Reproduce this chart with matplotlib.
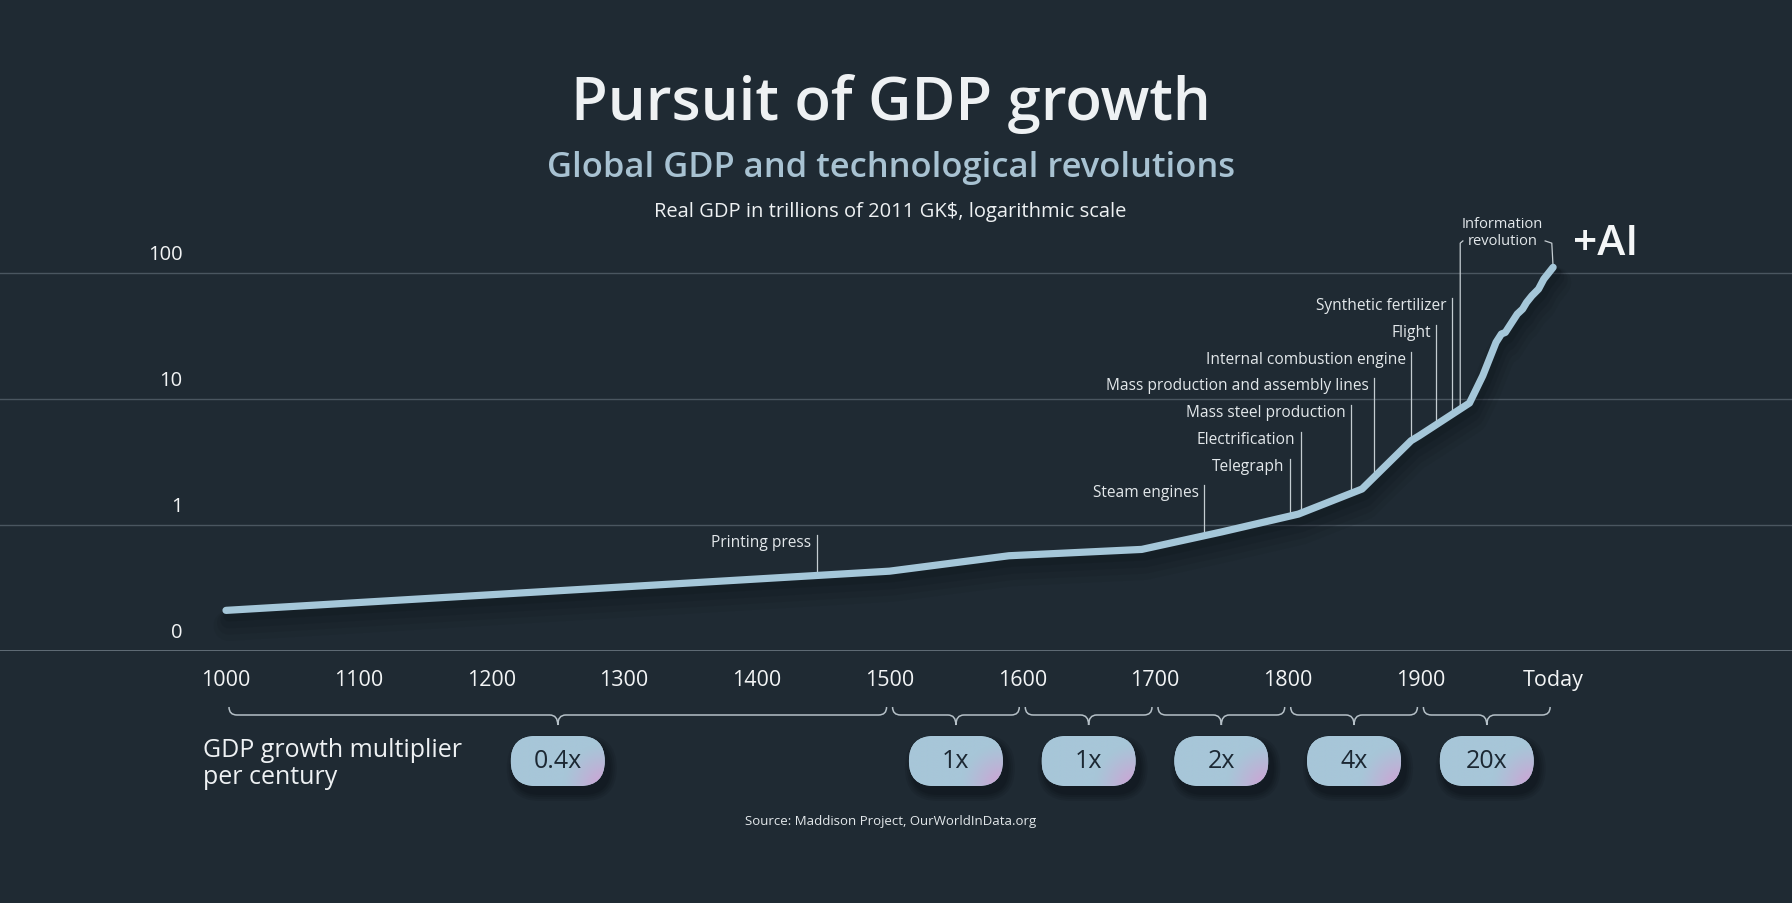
import numpy as np
import matplotlib
matplotlib.use('Agg')
import matplotlib.pyplot as plt
import matplotlib.patheffects as pe
from matplotlib.patches import FancyBboxPatch, PathPatch
from matplotlib.path import Path

plt.rcParams['font.family'] = ['Open Sans', 'DejaVu Sans']

# world GDP, trillions of 2011 GK$
years = [1000, 1500, 1590, 1690, 1750, 1808, 1856, 1893, 1899, 1937, 1947,
         1957, 1961, 1964, 1973, 1977, 1980, 1984, 1989, 1993, 2000]
gdp = [0.21, 0.43, 0.57, 0.64, 0.88, 1.22, 1.93, 4.67, 5.1, 9.3, 15.3,
       28.2, 32.8, 33.8, 47.3, 51.8, 58.5, 66, 74.6, 89.6, 111]

x_ticks = [1000, 1100, 1200, 1300, 1400, 1500, 1600, 1700, 1800, 1900, 2000]
x_labels = ['1000', '1100', '1200', '1300', '1400', '1500', '1600', '1700',
            '1800', '1900', 'Today']
y_ticks = [0.1, 1, 10, 100]
y_labels = ['0', '1', '10', '100']

events = ['Steam engines', 'Telegraph', 'Electrification', 'Mass steel production',
          'Mass production and assembly lines', 'Internal combustion engine',
          'Flight', 'Synthetic fertilizer']
event_years = [1737, 1802, 1810, 1848, 1865, 1893, 1912, 1924]
press_year = 1445
info_year = 1930

spans = [(1000, 1500), (1500, 1600), (1600, 1700), (1700, 1800), (1800, 1900), (1900, 2000)]
multipliers = ['0.4x', '1x', '1x', '2x', '4x', '20x']

BG = '#1f2a33'
LINE = '#a5c7d9'
W, H = 1792, 904

fig = plt.figure(figsize=(W / 100, H / 100), dpi=100, facecolor=BG)
ax = fig.add_axes([0, 0.2788, 1, 0.4933])
ax.set_facecolor(BG)
ax.set_yscale('log')
ax.set_xlim(829.7, 2180)
ax.set_ylim(0.1, 10 ** 2.54)
for s in ax.spines.values():
    s.set_visible(False)
ax.tick_params(axis='y', which='both', left=False, labelleft=False)
ax.tick_params(axis='x', which='both', length=0, pad=13, labelsize=15.5, labelcolor='#f2f4f5')
ax.set_xticks(x_ticks, x_labels)
for t in ax.get_xticklabels():
    t.set_fontweight(500)
ax.xaxis.set_minor_locator(matplotlib.ticker.NullLocator())

for v, lab in zip(y_ticks, y_labels):
    ax.axhline(v, color='#65727c' if v == 0.1 else '#4a5660', lw=1.3 if v == 0.1 else 1.0, zorder=1)
    ax.annotate(lab, xy=(0.102, v), xycoords=('axes fraction', 'data'), xytext=(0, 14),
                textcoords='offset points', ha='right', va='center', fontsize=14.5,
                color='#f2f4f5')

shadows = [pe.SimpleLineShadow(offset=(2, -o), shadow_color='#0b1116', alpha=a, linewidth=lw)
           for o, a, lw in [(11, 0.08, 22), (9, 0.10, 17), (7, 0.13, 12), (4, 0.16, 8)]]
ax.plot(years, gdp, color=LINE, lw=5.2, solid_capstyle='round', solid_joinstyle='round',
        zorder=5, path_effects=shadows + [pe.Normal()])

loggdp = np.log10(gdp)


def gdp_at(yr):
    return 10 ** np.interp(yr, years, loggdp)


# event markers
tick_c = '#c4ccd1'
lbl_c = '#e3e8eb'
lv = -0.136
ax.plot([press_year, press_year], [gdp_at(press_year), 10 ** (lv + 0.055)], color=tick_c, lw=0.9, zorder=3)
ax.annotate('Printing press', xy=(press_year, 10 ** lv), xytext=(-4, 0), textcoords='offset points',
            ha='right', va='center', fontsize=11.2, color=lbl_c)
for i, (name, yr) in enumerate(zip(events, event_years)):
    lv = 0.26 + 0.212 * i
    ax.plot([yr, yr], [gdp_at(yr), 10 ** (lv + 0.055)], color=tick_c, lw=0.9, zorder=3)
    ax.annotate(name, xy=(yr, 10 ** lv), xytext=(-4, 0), textcoords='offset points',
                ha='right', va='center', fontsize=11.2, color=lbl_c)

# information revolution bracket
top = 10 ** 2.255
ax.plot([info_year, info_year, info_year + 2], [gdp_at(info_year), top * 0.96, top],
        color=tick_c, lw=0.9, zorder=3)
ax.plot([1994, 1999, 2000], [top, top * 0.96, gdp[-1]], color=tick_c, lw=0.9, zorder=3)
ax.text(1962, 10 ** 2.392, 'Information', ha='center', va='center', fontsize=10.5, color=lbl_c)
ax.text(1962, 10 ** 2.262, 'revolution', ha='center', va='center', fontsize=10.5, color=lbl_c)

# titles
fig.text(0.497, 0.867, 'Pursuit of GDP growth', ha='center', va='baseline', fontsize=43,
         fontweight='semibold', color='#eef1f3')
fig.text(0.497, 0.804, 'Global GDP and technological revolutions', ha='center', va='baseline',
         fontsize=24.8, fontweight='semibold', color='#a8c2d2')
fig.text(0.497, 0.760, 'Real GDP in trillions of 2011 GK$, logarithmic scale', ha='center',
         va='baseline', fontsize=14.5, color='#eef1f3')
fig.text(0.8777, 0.718, '+AI', ha='left', va='baseline', fontsize=30.5, fontweight='semibold',
         color='#f4f6f7')
fig.text(0.1135, 0.1327, 'GDP growth multiplier\nper century', ha='left', va='baseline',
         fontsize=18, color='#eef1f3', linespacing=1.12)
fig.text(0.497, 0.0874, 'Source: Maddison Project, OurWorldInData.org', ha='center',
         va='baseline', fontsize=9.5, color='#e3e8eb')

# overlay in pixel units for braces and pills
ov = fig.add_axes([0, 0, 1, 1])
ov.set_xlim(0, W)
ov.set_ylim(0, H)
ov.axis('off')


def px(yr):
    return ax.transData.transform((yr, 1))[0]


yt, yf, yb = H - 708, H - 716, H - 726
r = 8
gy = np.linspace(0, 1, 60)[:, None]
gx = np.linspace(0, 1, 120)[None, :]
d = np.sqrt(((1 - gx) * 1.9) ** 2 + (gy * 1.0) ** 2)
w = np.clip(1 - d / 0.85, 0, 1) ** 1.2
base = np.array([167, 198, 216]) / 255
pink = np.array([210, 160, 212]) / 255
grad = base[None, None, :] * (1 - w[..., None]) + pink[None, None, :] * w[..., None]

for (a, b), m in zip(spans, multipliers):
    x0, x1 = px(a) + 3, px(b) - 3
    xc = (x0 + x1) / 2
    verts = [(x0, yt), (x0, yf), (x0 + r, yf), (xc - r, yf), (xc, yf), (xc, yb),
             (xc, yf), (xc + r, yf), (x1 - r, yf), (x1, yf), (x1, yt)]
    codes = [Path.MOVETO, Path.CURVE3, Path.CURVE3, Path.LINETO, Path.CURVE3, Path.CURVE3,
             Path.CURVE3, Path.CURVE3, Path.LINETO, Path.CURVE3, Path.CURVE3]
    ov.add_patch(PathPatch(Path(verts, codes), fill=False, ec='#b5c0c7', lw=1.1))

    cy = H - 762
    pw, ph = 94, 50
    for k, al in enumerate([0.10, 0.10, 0.12, 0.14]):
        g = 8 - 2 * k
        ov.add_patch(FancyBboxPatch((xc - pw / 2 - g + 4, cy - ph / 2 - g - 7), pw + 2 * g, ph + 2 * g,
                                    boxstyle='round,pad=0,rounding_size=%g' % (ph / 2 + g),
                                    fc='#05090c', ec='none', alpha=al))
    pill = FancyBboxPatch((xc - pw / 2, cy - ph / 2), pw, ph,
                          boxstyle='round,pad=0,rounding_size=%g' % (ph / 2),
                          fc=base, ec='none')
    ov.add_patch(pill)
    im = ov.imshow(grad, extent=(xc - pw / 2, xc + pw / 2, cy + ph / 2, cy - ph / 2),
                   aspect='auto', zorder=3)
    im.set_clip_path(pill)
    ov.text(xc, cy, m, ha='center', va='center', fontsize=18, color='#1c2833', zorder=4)

ov.set_xlim(0, W)
ov.set_ylim(0, H)

fig.savefig('out.png', dpi=100, facecolor=BG)
